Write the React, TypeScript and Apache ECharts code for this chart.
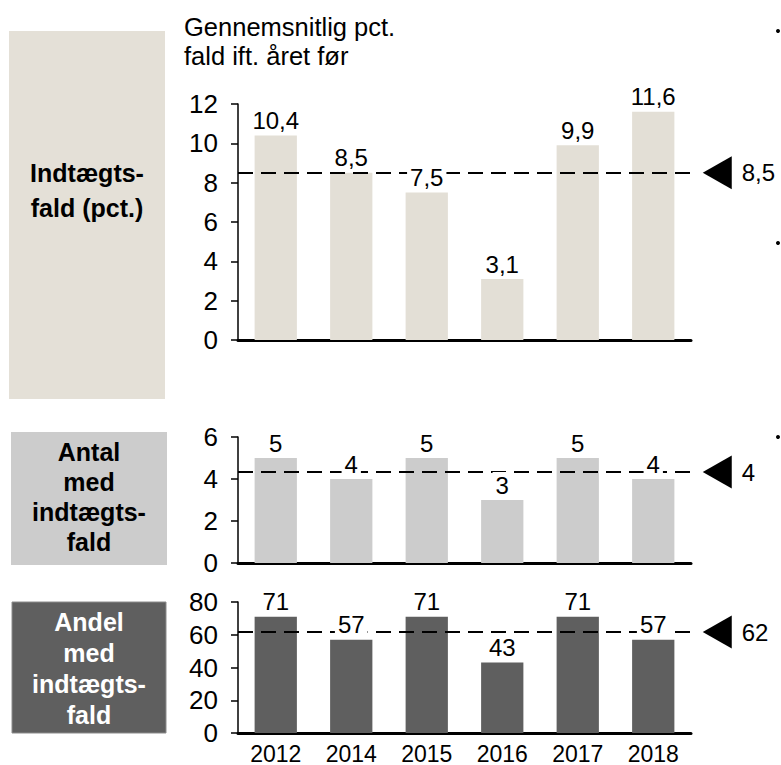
import React, { useEffect, useRef } from "react";
import * as echarts from "echarts";

const years = ["2012", "2014", "2015", "2016", "2017", "2018"];
const incomeDrop = [10.4, 8.5, 7.5, 3.1, 9.9, 11.6];
const countDrop = [5, 4, 5, 3, 5, 4];
const shareDrop = [71, 57, 71, 43, 71, 57];

const yMax = [12, 6, 80];
const yInterval = [2, 2, 20];
const decimals = [1, 0, 0];
const avgDecimals = [1, 0, 0];

const titleLines = "Gennemsnitlig pct.\nfald ift. året før";
const boxTexts = ["Indtægts-\nfald (pct.)", "Antal\nmed\nindtægts-\nfald", "Andel\nmed\nindtægts-\nfald"];

const FONT = "'Liberation Sans', Arial, sans-serif";

const fmt = (v: number, d: number) => v.toFixed(d).replace(".", ",");
const mean = (a: number[]) => a.reduce((s, v) => s + v, 0) / a.length;

export default function App() {
  const ref = useRef<HTMLDivElement>(null);
  useEffect(() => {
    if (!ref.current) return;
    const chart = echarts.init(ref.current, null, { renderer: "svg" });
    const datasets = [incomeDrop, countDrop, shareDrop];
    const barColors = ["#e3dfd6", "#cccccc", "#5f5f5f"];
    const grids = [
      { left: 238, top: 104, width: 453, height: 236 },
      { left: 238, top: 437, width: 453, height: 126 },
      { left: 238, top: 602, width: 453, height: 131 },
    ];
    const series: any[] = [];
    datasets.forEach((data, i) => {
      const avg = mean(data);
      series.push({
        type: "bar",
        xAxisIndex: i,
        yAxisIndex: i,
        data,
        barCategoryGap: "44%",
        barGap: "-100%",
        z: 2,
        silent: true,
        itemStyle: { color: barColors[i] },
        markLine: {
          silent: true,
          symbol: "none",
          z: 3,
          label: { show: false },
          lineStyle: { color: "#000", width: 2, type: [15, 8] },
          data: [{ yAxis: avg }],
        },
        markPoint: {
          silent: true,
          symbol: "path://M0,5L10,0L10,10Z",
          symbolSize: [29, 33],
          symbolOffset: [64, 0],
          itemStyle: { color: "#000" },
          label: {
            show: true,
            position: "right",
            distance: 10,
            formatter: () => fmt(avg, avgDecimals[i]),
            color: "#000",
            fontSize: 24,
            fontFamily: FONT,
          },
          data: [{ coord: [years[years.length - 1], avg] }],
        },
      });
      series.push({
        type: "bar",
        xAxisIndex: i,
        yAxisIndex: i,
        data,
        barCategoryGap: "44%",
        barGap: "-100%",
        z: 4,
        silent: true,
        itemStyle: { color: "rgba(0,0,0,0)" },
        label: {
          show: true,
          position: "top",
          distance: 2,
          formatter: (p: any) => fmt(p.value, decimals[i]),
          color: "#000",
          fontSize: 24,
          fontFamily: FONT,
          backgroundColor: "#fff",
          padding: [1, 3],
        },
      });
    });

    const boxes = [
      { x: 9, y: 31, w: 156, h: 368, fill: "#e4e0d7", stroke: "none", tc: "#000", ty: 190, lh: 35 },
      { x: 11, y: 432, w: 156, h: 133, fill: "#cccccc", stroke: "none", tc: "#000", ty: 497, lh: 30 },
      { x: 12, y: 602, w: 154, h: 131, fill: "#5f5f5f", stroke: "#8c8c8c", tc: "#fff", ty: 668, lh: 31 },
    ];
    const graphic: any[] = [];
    boxes.forEach((b, i) => {
      graphic.push({
        type: "rect",
        shape: { x: b.x, y: b.y, width: b.w, height: b.h },
        style: { fill: b.fill, stroke: b.stroke, lineWidth: 1 },
        silent: true,
      });
      graphic.push({
        type: "text",
        x: b.x + b.w / 2,
        y: b.ty,
        style: {
          text: boxTexts[i],
          fill: b.tc,
          fontSize: 25,
          fontWeight: "bold",
          fontFamily: FONT,
          lineHeight: b.lh,
          align: "center",
          verticalAlign: "middle",
        },
        silent: true,
      });
    });
    graphic.push({
      type: "text",
      x: 184,
      y: 41,
      style: {
        text: titleLines,
        fill: "#000",
        fontSize: 25.5,
        fontFamily: FONT,
        lineHeight: 29,
        align: "left",
        verticalAlign: "middle",
      },
      silent: true,
    });
    [31, 243, 437].forEach((y) => {
      graphic.push({
        type: "circle",
        shape: { cx: 778, cy: y, r: 2 },
        style: { fill: "#000" },
        silent: true,
      });
    });

    chart.setOption({
      animation: false,
      grid: grids,
      xAxis: grids.map((_, i) => ({
        gridIndex: i,
        type: "category",
        data: years,
        axisLine: { show: true, lineStyle: { color: "#000", width: 3 } },
        axisTick: { show: false },
        axisLabel: {
          show: i === 2,
          fontSize: 23,
          color: "#000",
          fontFamily: FONT,
          margin: 9,
        },
        splitLine: { show: false },
      })),
      yAxis: grids.map((_, i) => ({
        gridIndex: i,
        type: "value",
        min: 0,
        max: yMax[i],
        interval: yInterval[i],
        axisLine: { show: true, lineStyle: { color: "#000", width: 1.5 } },
        axisTick: { show: true, length: 7, lineStyle: { color: "#000", width: 1.5 } },
        axisLabel: { fontSize: 26, color: "#000", fontFamily: FONT, margin: 20 },
        splitLine: { show: false },
      })),
      series,
      graphic,
    });
    return () => chart.dispose();
  }, []);
  return (
    <div
      ref={ref}
      style={{ position: "absolute", left: 0, top: 0, width: 781, height: 765, background: "#fff" }}
    />
  );
}
